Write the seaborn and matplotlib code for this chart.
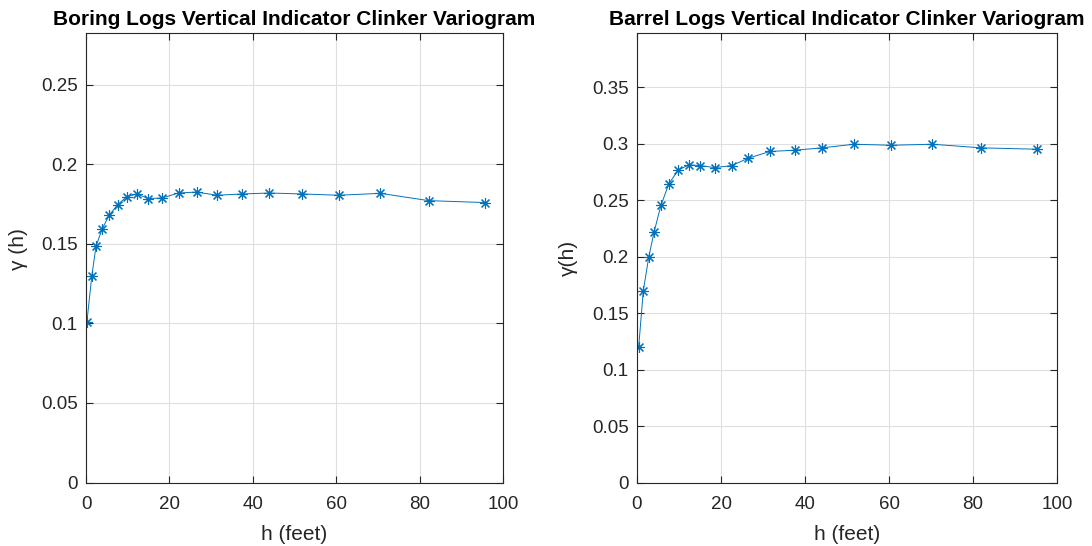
import numpy as np
import pandas as pd
import matplotlib
matplotlib.use("Agg")
import matplotlib.pyplot as plt
from matplotlib.ticker import FuncFormatter
import seaborn as sns

# lag distances (feet)
h_boring = [0.2, 1.4, 2.4, 3.9, 5.6, 7.6, 9.8, 12.2, 14.9, 18.3, 22.2, 26.5,
            31.4, 37.5, 44.0, 51.9, 60.6, 70.6, 82.2, 95.7]
gamma_boring = [0.1006, 0.1300, 0.1485, 0.1596, 0.1682, 0.1747, 0.1797, 0.1814,
                0.1785, 0.1789, 0.1820, 0.1826, 0.1806, 0.1814, 0.1820, 0.1814,
                0.1806, 0.1818, 0.1772, 0.1760]

h_barrel = [0.4, 1.5, 2.8, 4.05, 5.7, 7.6, 9.85, 12.4, 15.1, 18.5, 22.5, 26.5,
            31.6, 37.5, 44.0, 51.7, 60.5, 70.3, 82.0, 95.3]
gamma_barrel = [0.1200, 0.1698, 0.1996, 0.2215, 0.2454, 0.2646, 0.2768, 0.2812,
                0.2806, 0.2788, 0.2806, 0.2871, 0.2931, 0.2942, 0.2963, 0.2995,
                0.2986, 0.2995, 0.2963, 0.2951]

titles = ["Boring Logs Vertical Indicator Clinker Variogram",
          "Barrel Logs Vertical Indicator Clinker Variogram"]
ylabels = ["\u03b3 (h)", "\u03b3(h)"]
xlabel = "h (feet)"
x_ticks = [0, 20, 40, 60, 80, 100]
y_ticks_list = [[0, 0.05, 0.1, 0.15, 0.2, 0.25],
                [0, 0.05, 0.1, 0.15, 0.2, 0.25, 0.3, 0.35]]
y_tops = [0.2826, 0.398]

sns.set_theme(style="white")
plt.rcParams['font.family'] = ['Liberation Sans', 'DejaVu Sans']

COLOR = "#0072BD"
AXC = "#262626"

fig = plt.figure(figsize=(10.92, 5.46), dpi=100)
positions = [[86/1092, 63.5/546, 417/1092, 449.5/546],
             [637/1092, 63.5/546, 420/1092, 449.5/546]]
ylabel_coords = [(-0.138, 0.52), (-0.140, 0.50)]

datasets = [(h_boring, gamma_boring), (h_barrel, gamma_barrel)]

for i, (hh, gg) in enumerate(datasets):
    ax = fig.add_axes(positions[i])
    df = pd.DataFrame({"h": hh, "gamma": gg})
    sns.lineplot(data=df, x="h", y="gamma", ax=ax, estimator=None, sort=False,
                 color=COLOR, linewidth=0.7, marker=(8, 2, 0), markersize=7.8,
                 markeredgecolor=COLOR, markeredgewidth=0.8)
    ax.set_xlim(0, 100)
    ax.set_ylim(0, y_tops[i])
    ax.set_xticks(x_ticks)
    ax.set_yticks(y_ticks_list[i])
    ax.yaxis.set_major_formatter(FuncFormatter(lambda v, p: "%g" % v))
    ax.grid(True, color="#dfdfdf", linewidth=0.8)
    ax.set_axisbelow(True)
    for s in ax.spines.values():
        s.set_color(AXC)
        s.set_linewidth(0.8)
    ax.tick_params(direction="in", length=5, width=0.8, color=AXC,
                   labelcolor=AXC, labelsize=13.5, top=True, right=True,
                   bottom=True, left=True)
    ax.tick_params(axis="x", pad=10)
    ax.tick_params(axis="y", pad=6)
    ax.set_title(titles[i], fontsize=15, fontweight="bold", color="black", pad=6)
    ax.set_xlabel(xlabel, fontsize=15, color=AXC, labelpad=8)
    ax.set_ylabel(ylabels[i], fontsize=15, color=AXC)
    ax.yaxis.set_label_coords(*ylabel_coords[i])

fig.savefig("out.png", dpi=100)
